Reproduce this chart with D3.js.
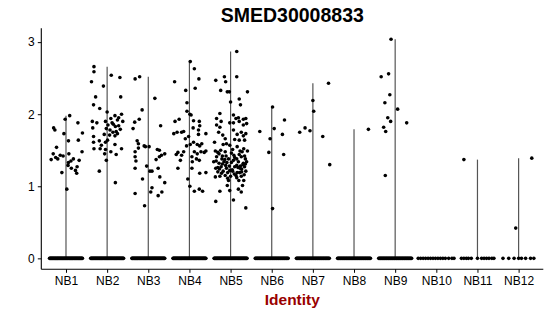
<!DOCTYPE html>
<html lang="en">
<head>
    <meta charset="UTF-8">
    <title>SMED30008833</title>
    <script src="https://d3js.org/d3.v7.min.js"></script>
    <style>
        body { margin: 0; background: #fff; }
        svg { display: block; font-family: "Liberation Sans", Arial, sans-serif; }
    </style>
</head>
<body>
    <svg width="550" height="316"></svg>
    <script>
        const title = "SMED30008833";
        const xTitle = "Identity";
        const groups = ["NB1", "NB2", "NB3", "NB4", "NB5", "NB6", "NB7", "NB8", "NB9", "NB10", "NB11", "NB12"];
        const yTicks = [0, 1, 2, 3];

        // non-zero cells: [expression, jitter offset in category widths]
        const nb1 = [[1.93,-0.02],[1.98,0.09],[1.88,0.29],[1.78,-0.27],[1.81,-0.3],[1.73,-0.05],[1.74,0.40],[1.63,0.06],[1.64,0.30],
            [1.54,-0.23],[1.45,-0.31],[1.43,-0.14],[1.42,-0.07],[1.45,0.07],[1.38,0.18],[1.48,0.39],[1.37,-0.36],
            [1.38,-0.20],[1.33,0.06],[1.29,0.05],[1.25,0.13],[1.27,0.27],[1.22,0.23],[1.36,0.32],[1.19,-0.10],
            [1.18,0.26],[0.96,0.02],[1.40,-0.25],[1.35,0.12]];
        const nb2 = [[2.66,-0.32],[2.59,-0.32],[2.45,-0.38],[2.54,0.10],[2.51,0.31],[2.39,-0.09],[2.24,-0.28],[2.24,0.33],
            [2.13,-0.33],[2.08,-0.18],[2.03,0.0],[1.90,-0.36],[1.88,-0.25],[1.81,-0.35],[1.90,-0.04],[1.94,0.09],
            [1.98,0.19],[1.92,0.25],[2.00,0.35],[1.90,0.38],[1.85,0.02],[1.86,0.15],[1.84,0.28],[1.80,-0.02],
            [1.78,0.07],[1.76,0.22],[1.79,0.32],[1.72,-0.07],[1.71,0.06],[1.70,0.19],[1.73,0.25],[1.69,-0.33],
            [1.63,-0.19],[1.64,0.01],[1.61,-0.33],[1.57,-0.14],[1.61,-0.04],[1.58,0.19],[1.52,-0.32],[1.52,-0.17],
            [1.51,-0.04],[1.52,0.35],[1.48,0.09],[1.44,0.22],[1.45,-0.06],[1.36,-0.02],[1.21,-0.19],[1.05,0.20],
            [1.88,0.12],[1.83,0.2],[1.95,0.28],[1.75,0.14]];
        const nb3 = [[2.49,-0.32],[2.52,-0.21],[2.22,0.16],[2.06,-0.15],[1.89,-0.33],[1.93,-0.22],[1.80,-0.37],[1.84,0.30],
            [1.63,-0.27],[1.59,-0.24],[1.48,-0.32],[1.53,-0.24],[1.56,-0.10],[1.55,-0.07],[1.55,0.02],[1.51,0.22],
            [1.50,0.27],[1.45,0.40],[1.43,0.32],[1.41,-0.32],[1.35,-0.30],[1.37,0.19],[1.41,0.27],[1.28,-0.04],
            [1.25,-0.32],[1.21,0.04],[1.21,0.09],[1.25,0.24],[1.10,-0.14],[1.13,0.28],[1.05,0.40],[0.98,0.09],
            [0.92,0.06],[0.92,0.33],[0.87,0.24],[0.90,-0.32],[0.73,-0.09]];
        const nb4 = [[2.73,0.02],[2.63,0.12],[2.49,0.23],[2.45,-0.36],[2.36,0.14],[2.33,-0.09],[2.16,-0.06],[2.04,-0.06],
            [2.00,0.01],[1.99,0.04],[1.93,-0.25],[1.90,-0.35],[1.91,0.10],[1.90,0.24],[1.73,-0.38],[1.75,-0.30],
            [1.75,-0.19],[1.76,-0.14],[1.81,0.09],[1.78,0.22],[1.84,0.25],[1.73,0.40],[1.69,-0.02],[1.66,-0.10],
            [1.72,0.22],[1.61,0.10],[1.58,0.19],[1.56,0.25],[1.59,0.30],[1.58,0.02],[1.56,-0.07],[1.47,-0.28],
            [1.44,-0.32],[1.43,-0.19],[1.48,-0.14],[1.48,0.12],[1.45,0.19],[1.48,0.28],[1.47,0.36],[1.49,0.40],
            [1.41,0.06],[1.38,0.17],[1.36,0.24],[1.34,0.07],[1.36,-0.22],[1.25,-0.28],[1.25,0.06],[1.18,0.25],
            [1.19,0.40],[1.10,-0.04],[1.00,0.01],[0.93,0.12],[0.96,0.24],[0.93,0.32]];
        const nb5 = [[2.87,0.15],[2.47,-0.36],[2.52,-0.15],[2.52,0.15],[2.45,-0.12],[2.33,-0.24],[2.31,-0.08],[2.31,-0.03],
            [2.31,0.41],[2.17,0.0],[2.21,0.21],[2.13,0.24],[2.01,-0.26],[1.94,-0.34],[1.90,-0.23],[1.99,0.07],
            [1.94,0.13],[1.95,0.19],[1.93,0.31],[1.94,0.37],[1.88,-0.02],[1.88,0.07],[1.90,0.21],[1.85,-0.34],
            [1.82,-0.26],[1.85,0.31],[1.87,0.39],[1.75,-0.29],[1.71,-0.19],[1.66,-0.13],[1.78,0.07],[1.72,0.16],
            [1.75,0.26],[1.70,0.31],[1.73,0.37],[1.65,0.10],[1.64,0.21],[1.64,0.34],[1.61,-0.39],[1.58,-0.18],
            [1.59,-0.10],[1.57,-0.02],[1.49,-0.37],[1.47,-0.31],[1.50,-0.24],[1.48,-0.13],[1.51,0.05],[1.55,0.16],
            [1.49,0.23],[1.52,0.32],[1.49,0.41],[1.41,-0.34],[1.38,-0.21],[1.42,-0.11],[1.38,-0.05],[1.43,0.08],
            [1.38,0.15],[1.41,0.26],[1.38,0.36],[1.34,-0.41],[1.32,-0.28],[1.34,-0.16],[1.33,0.02],[1.34,0.19],
            [1.32,0.31],[1.34,0.39],[1.25,-0.36],[1.27,-0.23],[1.25,-0.10],[1.28,-0.03],[1.27,0.10],[1.25,0.23],
            [1.27,0.34],[1.20,-0.31],[1.21,-0.18],[1.19,-0.07],[1.21,0.05],[1.19,0.16],[1.20,0.27],[1.21,0.37],
            [1.14,-0.26],[1.15,-0.13],[1.14,0.0],[1.15,0.13],[1.14,0.26],[1.13,-0.37],[1.08,-0.05],[1.08,0.32],
            [1.01,-0.08],[1.01,0.29],[0.93,-0.26],[0.94,-0.02],[0.96,0.19],[0.92,0.26],[0.79,-0.36],[0.81,0.07],
            [0.70,0.37],[1.29,-0.12],[1.36,0.07],[1.24,-0.27],[1.24,0.27],[1.29,0.15],[1.42,-0.20],[1.42,0.34],
            [1.46,0.02],[1.11,-0.07],[1.08,0.20],[1.30,0.30],[1.17,0.09],[1.45,-0.28],[1.31,-0.20],[1.23,0.04],
            [1.18,-0.22],[1.26,0.18],[1.35,-0.35],[1.40,0.10],[1.31,0.36],[1.22,-0.02],[1.16,0.33],[1.37,-0.14],
            [1.28,0.24],[1.44,0.21],[1.33,-0.09],[1.19,0.22],[1.26,-0.31],[1.12,0.15],[1.48,0.28]];
        const nb6 = [[1.76,-0.29],[2.10,0.02],[1.80,0.06],[1.66,-0.04],[1.92,0.31],[1.72,0.26],[1.47,-0.07],[1.44,0.29],[0.69,0.02]];
        const nb7 = [[2.43,0.38],[2.19,0.0],[2.04,0.02],[1.75,-0.32],[1.81,-0.19],[1.77,-0.07],[1.69,0.24],[1.30,0.41]];
        const nb8 = [[1.79,0.35]];
        const nb9 = [[3.04,-0.10],[2.52,-0.34],[2.56,-0.16],[2.27,-0.13],[2.16,-0.25],[2.07,0.06],[1.88,0.28],[1.95,-0.18],
            [1.90,-0.11],[1.82,-0.28],[1.76,-0.23],[1.15,-0.24]];
        const nb10 = [];
        const nb11 = [[1.37,-0.33]];
        const nb12 = [[1.39,0.32],[0.42,-0.07]];
        const nonZero = [nb1, nb2, nb3, nb4, nb5, nb6, nb7, nb8, nb9, nb10, nb11, nb12];

        // zero-expression cells: dense groups given as a count, sparse groups as jitter offsets
        const zeroCounts = [60, 60, 60, 60, 60, 50, 50, 50, 50];
        const zeroNB10 = [-0.44,-0.38,-0.32,-0.26,-0.2,-0.14,-0.08,-0.02,0.04,0.1,0.16,0.22,0.3,0.38,0.43];
        const zeroNB11 = [-0.39,-0.33,-0.27,-0.22,-0.15,0.0,0.1,0.16,0.22,0.28,0.35,0.4];
        const zeroNB12 = [-0.38,-0.24,-0.11,0.0,0.07,0.17,0.29,0.37];

        const svg = d3.select("svg");
        const mLeft = 41.3, mRight = 543.3, mTop = 28.3, mBottom = 269.3;

        const x = d3.scalePoint().domain(groups).range([mLeft, mRight]).padding(0.6);
        const step = x.step();
        const maxVal = d3.max(nonZero.flat(), d => d[0]);
        const y = d3.scaleLinear().domain([-0.05 * maxVal, 1.05 * maxVal]).range([mBottom, mTop]);

        // flatten all cells
        const cells = [];
        groups.forEach((g, i) => {
            if (i < zeroCounts.length) {
                const n = zeroCounts[i];
                for (let k = 0; k < n; k++) cells.push({ g, v: 0, j: -0.40 + 0.80 * k / (n - 1) });
            }
            nonZero[i].forEach(d => cells.push({ g, v: d[0], j: d[1] }));
        });
        zeroNB10.forEach(j => cells.push({ g: "NB10", v: 0, j }));
        zeroNB11.forEach(j => cells.push({ g: "NB11", v: 0, j }));
        zeroNB12.forEach(j => cells.push({ g: "NB12", v: 0, j }));

        // thin violins (all mass near zero, so they collapse to a line)
        svg.append("g").selectAll("line")
            .data(groups)
            .join("line")
            .attr("x1", d => x(d)).attr("x2", d => x(d))
            .attr("y1", y(0))
            .attr("y2", (d, i) => y(d3.max(nonZero[i], p => p[0]) || 0))
            .attr("stroke", "#555")
            .attr("stroke-width", 1.2);

        svg.append("g").selectAll("circle")
            .data(cells)
            .join("circle")
            .attr("cx", d => x(d.g) + d.j * step)
            .attr("cy", d => y(d.v))
            .attr("r", 1.8)
            .attr("fill", "#000");

        // axes
        const yAxis = svg.append("g")
            .attr("transform", `translate(${mLeft},0)`)
            .call(d3.axisLeft(y).tickValues(yTicks).tickSize(3.5).tickPadding(3).tickFormat(d3.format("d")));
        const xAxis = svg.append("g")
            .attr("transform", `translate(0,${mBottom})`)
            .call(d3.axisBottom(x).tickSize(3.5).tickPadding(4));
        [yAxis, xAxis].forEach(a => {
            a.select(".domain").attr("stroke", "#000").attr("stroke-width", 1.1);
            a.selectAll(".tick line").attr("stroke", "#000").attr("stroke-width", 1);
            a.selectAll(".tick text").attr("font-size", 12).attr("fill", "#000")
                .attr("font-family", "'Liberation Sans', Arial, sans-serif");
        });
        yAxis.select(".domain").attr("d", `M0,${mBottom}V${mTop}`);
        xAxis.select(".domain").attr("d", `M${mLeft},0H${mRight}`);

        svg.append("text")
            .attr("x", (mLeft + mRight) / 2).attr("y", 22)
            .attr("text-anchor", "middle")
            .attr("font-size", 19.5).attr("font-weight", "bold")
            .text(title);

        svg.append("text")
            .attr("x", (mLeft + mRight) / 2).attr("y", 305)
            .attr("text-anchor", "middle")
            .attr("font-size", 15.5).attr("font-weight", "bold")
            .attr("fill", "#990000")
            .text(xTitle);
    </script>
</body>
</html>
